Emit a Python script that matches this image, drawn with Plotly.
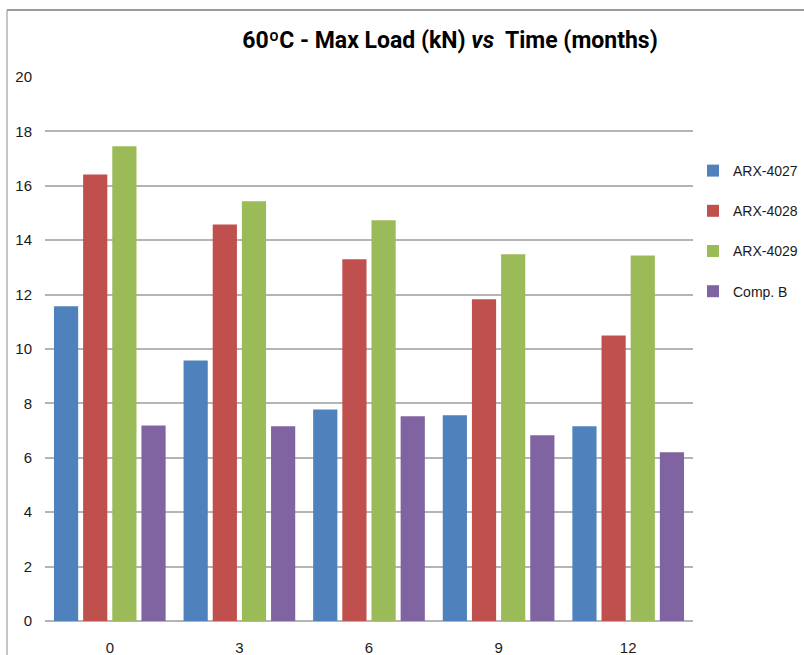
import plotly.graph_objects as go

months = ["0", "3", "6", "9", "12"]
series_names = ["ARX-4027", "ARX-4028", "ARX-4029", "Comp. B"]
arx_4027 = [11.57, 9.58, 7.78, 7.56, 7.16]
arx_4028 = [16.42, 14.58, 13.30, 11.83, 10.50]
arx_4029 = [17.45, 15.43, 14.73, 13.48, 13.44]
comp_b = [7.19, 7.16, 7.53, 6.83, 6.20]
colors = ["#4F81BD", "#C0504D", "#9BBB59", "#8064A2"]
y_ticks = [0, 2, 4, 6, 8, 10, 12, 14, 16, 18, 20]

fig = go.Figure()
for name, vals, col in zip(series_names, [arx_4027, arx_4028, arx_4029, comp_b], colors):
    fig.add_trace(go.Bar(x=months, y=vals, name=name, marker=dict(color=col, line=dict(width=0)),
                         legendgroup=name))

W, H = 804, 655
L, R, T, B = 45, 111, 77, 34
pw, ph = W - L - R, H - T - B

def px_x(x):
    return (x - L) / pw

def px_y(y):
    return (H - B - y) / ph

fig.update_layout(
    width=W, height=H,
    margin=dict(l=L, r=R, t=T, b=B, autoexpand=False),
    paper_bgcolor="white", plot_bgcolor="white",
    bargap=0.1, bargroupgap=0.17,
    barmode="group",
    title=dict(text="60ºC - Max Load (kN) <i>vs</i>  Time (months)",
               font=dict(family="Roboto", size=23, color="black", weight="bold"),
               xref="paper", x=px_x(450), xanchor="center",
               yref="container", y=1 - 40 / H, yanchor="middle"),
    font=dict(family="Liberation Sans", size=15, color="#1a1a1a"),
    xaxis=dict(showgrid=False, showline=False, zeroline=False, ticks="",
               ticklabelstandoff=16, tickfont=dict(size=15, color="#1a1a1a")),
    yaxis=dict(range=[0, 20], tickvals=y_ticks, showgrid=True, gridcolor="#b4b4b4", gridwidth=1.5,
               zeroline=True, zerolinecolor="#b4b4b4", zerolinewidth=1.5, showline=False,
               ticks="", ticklabelstandoff=12, tickfont=dict(size=15, color="#1a1a1a"), fixedrange=True),
    legend=dict(x=px_x(693), xanchor="left", y=px_y(155), yanchor="top",
                font=dict(size=14, color="#1a1a1a"), tracegroupgap=19, itemwidth=30,
                bgcolor="rgba(0,0,0,0)"),
    showlegend=True,
    shapes=[
        dict(type="line", xref="paper", yref="paper", x0=px_x(7), x1=px_x(7), y0=px_y(10), y1=px_y(700),
             line=dict(color="#8c8c8c", width=1)),
        dict(type="line", xref="paper", yref="paper", x0=px_x(7), x1=px_x(820), y0=px_y(10), y1=px_y(10),
             line=dict(color="#9a9a9a", width=2)),
    ],
)

fig.write_html("out.html", config={"displayModeBar": False},
               post_script="document.body.style.margin='0';document.body.style.padding='0';document.documentElement.style.overflow='hidden';")
